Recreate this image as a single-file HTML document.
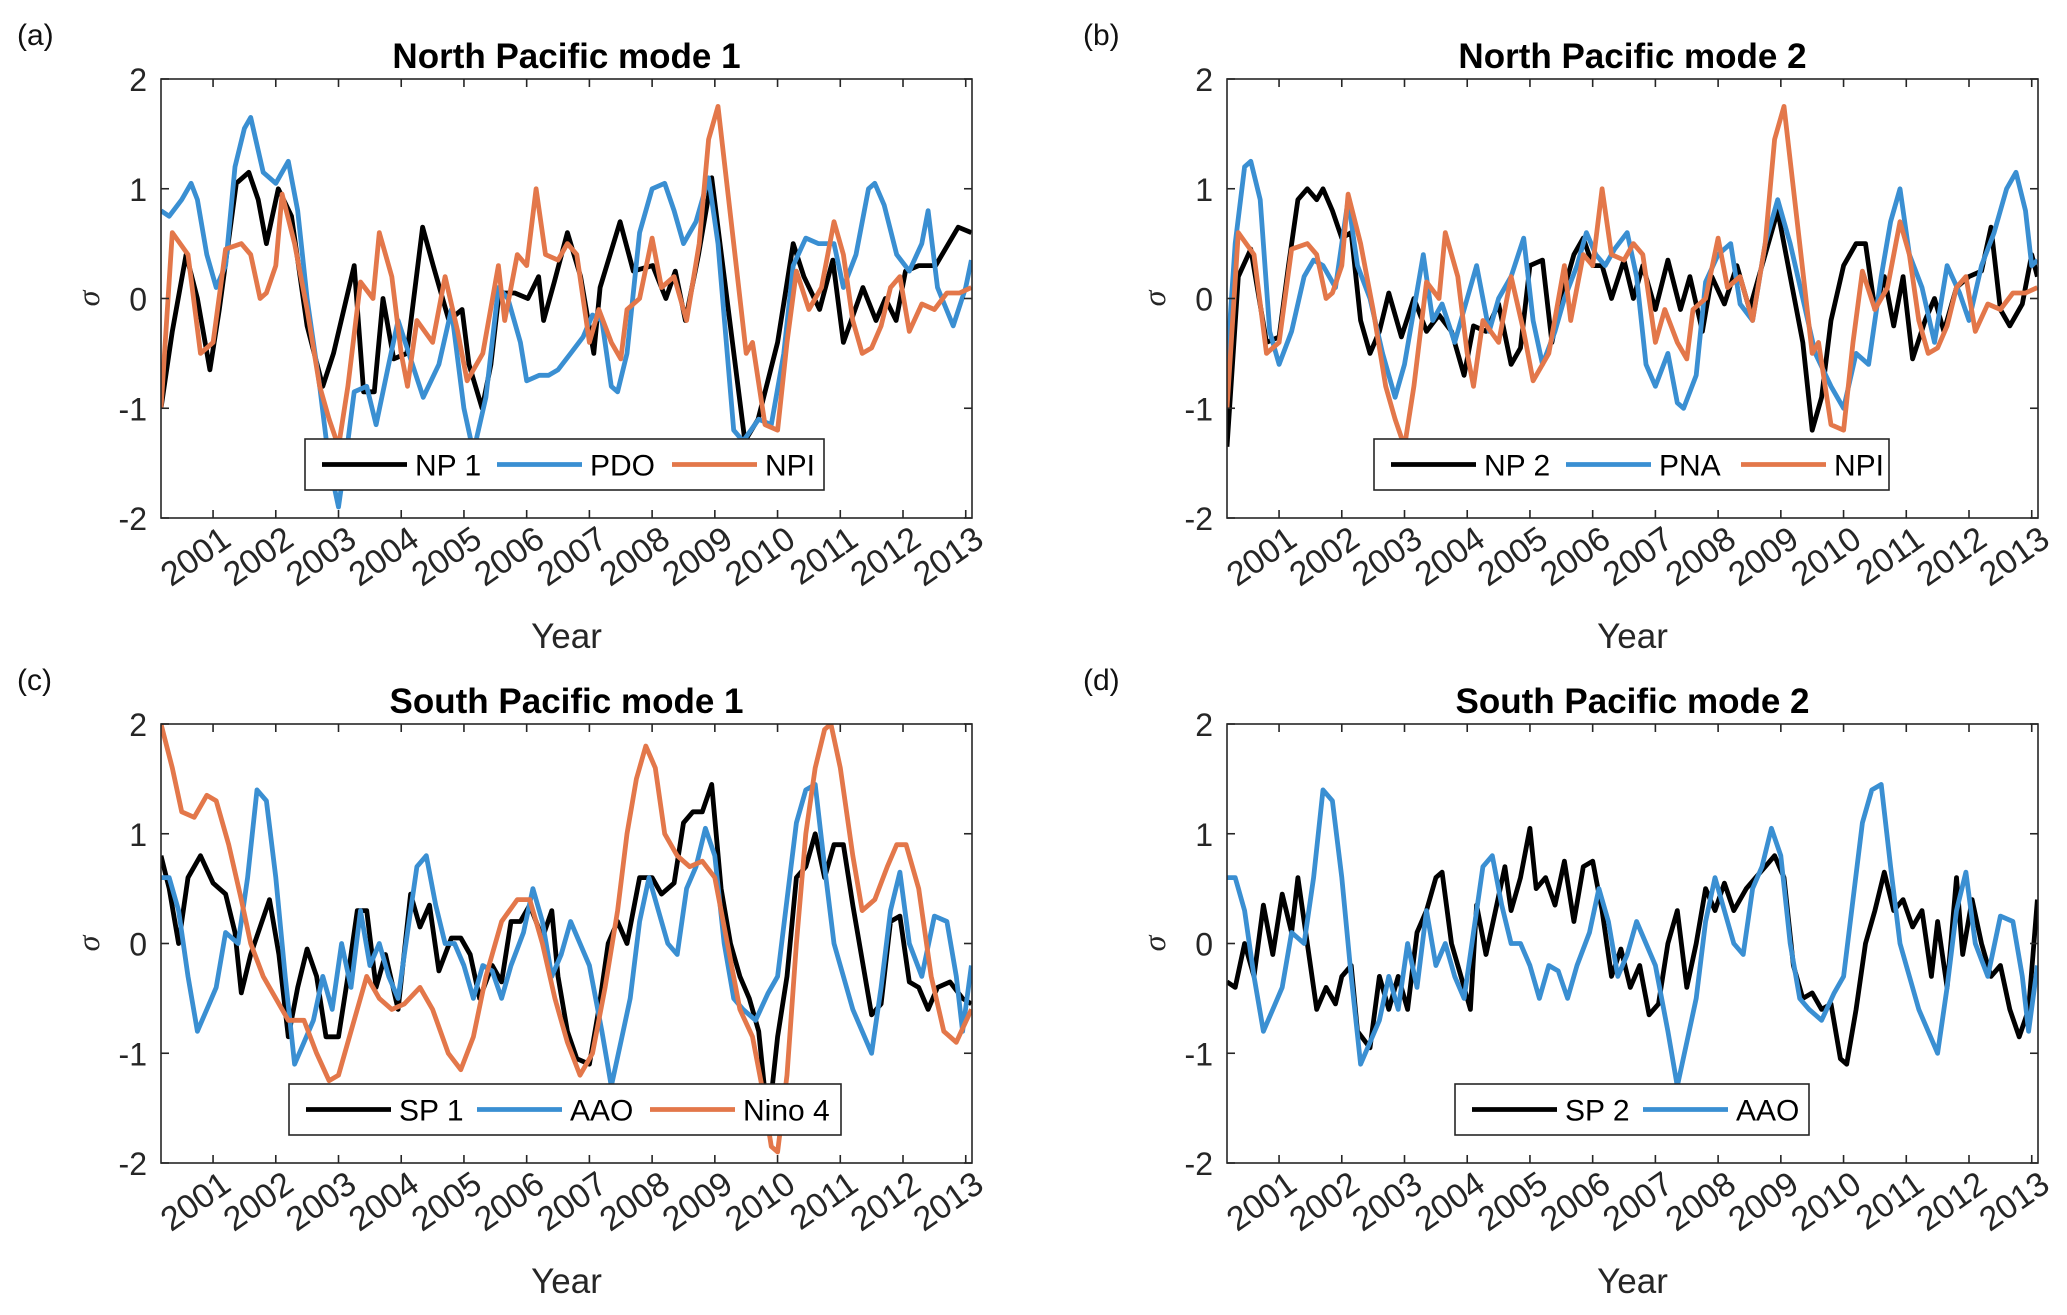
<!DOCTYPE html>
<html><head><meta charset="utf-8"><style>
html,body{margin:0;padding:0;background:#fff;}
svg{display:block;font-family:"Liberation Sans",Arial,sans-serif;}
</style></head><body>
<svg id="fig" width="2067" height="1315" viewBox="0 0 2067 1315" xmlns="http://www.w3.org/2000/svg"></svg>
<script>
const years = [2001,2002,2003,2004,2005,2006,2007,2008,2009,2010,2011,2012,2013];
const yTicks = [2,1,0,-1,-2];
const np1 = [[2000.17,-1],[2000.35,-0.3],[2000.57,0.4],[2000.75,0],[2000.95,-0.65],[2001.1,-0.1],[2001.37,1.05],[2001.57,1.15],[2001.72,0.9],[2001.85,0.5],[2002.04,1.0],[2002.25,0.75],[2002.5,-0.25],[2002.75,-0.8],[2002.92,-0.5],[2003.25,0.3],[2003.4,-0.85],[2003.57,-0.85],[2003.71,0],[2003.88,-0.55],[2004.09,-0.5],[2004.34,0.65],[2004.51,0.3],[2004.76,-0.2],[2004.97,-0.1],[2005.08,-0.6],[2005.29,-1.0],[2005.43,-0.6],[2005.56,0.05],[2005.81,0.05],[2006.02,0],[2006.19,0.2],[2006.27,-0.2],[2006.44,0.15],[2006.65,0.6],[2006.86,0.2],[2007.07,-0.5],[2007.17,0.1],[2007.49,0.7],[2007.7,0.25],[2008.01,0.3],[2008.22,0],[2008.37,0.25],[2008.53,-0.2],[2008.74,0.4],[2008.95,1.1],[2009.48,-1.3],[2009.69,-1.1],[2010.0,-0.4],[2010.25,0.5],[2010.42,0.2],[2010.67,-0.1],[2010.88,0.35],[2011.05,-0.4],[2011.36,0.1],[2011.57,-0.2],[2011.72,0],[2011.89,-0.2],[2012.04,0.25],[2012.25,0.3],[2012.52,0.3],[2012.88,0.65],[2013.09,0.6]];
const pdo = [[2000.17,0.8],[2000.3,0.75],[2000.5,0.9],[2000.65,1.05],[2000.75,0.9],[2000.9,0.4],[2001.05,0.1],[2001.2,0.3],[2001.35,1.2],[2001.5,1.55],[2001.6,1.65],[2001.8,1.15],[2002.0,1.05],[2002.2,1.25],[2002.35,0.8],[2002.5,0.0],[2002.7,-0.8],[2002.85,-1.5],[2003.0,-1.9],[2003.15,-1.3],[2003.25,-0.85],[2003.45,-0.8],[2003.6,-1.15],[2003.8,-0.6],[2003.95,-0.2],[2004.15,-0.55],[2004.35,-0.9],[2004.6,-0.6],[2004.8,-0.1],[2005.0,-1.0],[2005.15,-1.4],[2005.35,-0.9],[2005.55,0.1],[2005.7,0.0],[2005.9,-0.4],[2006.0,-0.75],[2006.2,-0.7],[2006.35,-0.7],[2006.5,-0.65],[2006.7,-0.5],[2006.9,-0.35],[2007.05,-0.15],[2007.2,-0.2],[2007.35,-0.8],[2007.45,-0.85],[2007.6,-0.5],[2007.8,0.6],[2008.0,1.0],[2008.2,1.05],[2008.35,0.8],[2008.5,0.5],[2008.7,0.7],[2008.9,1.1],[2009.05,0.5],[2009.3,-1.2],[2009.45,-1.3],[2009.7,-1.1],[2009.9,-1.15],[2010.1,-0.5],[2010.25,0.3],[2010.45,0.55],[2010.65,0.5],[2010.9,0.5],[2011.05,0.1],[2011.25,0.4],[2011.45,1.0],[2011.55,1.05],[2011.7,0.85],[2011.9,0.4],[2012.1,0.25],[2012.3,0.5],[2012.4,0.8],[2012.55,0.1],[2012.8,-0.25],[2013.0,0.1],[2013.09,0.35]];
const npi = [[2000.17,-1],[2000.35,0.6],[2000.6,0.4],[2000.8,-0.5],[2001.0,-0.4],[2001.2,0.45],[2001.45,0.5],[2001.6,0.4],[2001.75,0.0],[2001.85,0.05],[2002.0,0.3],[2002.1,0.95],[2002.3,0.5],[2002.5,-0.1],[2002.7,-0.8],[2002.85,-1.1],[2003.0,-1.35],[2003.15,-0.8],[2003.35,0.15],[2003.55,0.0],[2003.65,0.6],[2003.85,0.2],[2004.0,-0.5],[2004.1,-0.8],[2004.25,-0.2],[2004.5,-0.4],[2004.7,0.2],[2004.9,-0.3],[2005.05,-0.75],[2005.3,-0.5],[2005.55,0.3],[2005.65,-0.2],[2005.85,0.4],[2006.0,0.3],[2006.15,1.0],[2006.3,0.4],[2006.5,0.35],[2006.65,0.5],[2006.8,0.4],[2007.0,-0.4],[2007.15,-0.1],[2007.35,-0.4],[2007.5,-0.55],[2007.6,-0.1],[2007.8,0.0],[2008.0,0.55],[2008.15,0.1],[2008.35,0.2],[2008.55,-0.2],[2008.75,0.5],[2008.9,1.45],[2009.05,1.75],[2009.3,0.5],[2009.5,-0.5],[2009.6,-0.4],[2009.8,-1.15],[2010.0,-1.2],[2010.15,-0.4],[2010.3,0.25],[2010.5,-0.1],[2010.7,0.1],[2010.9,0.7],[2011.05,0.4],[2011.2,-0.2],[2011.35,-0.5],[2011.5,-0.45],[2011.65,-0.25],[2011.8,0.1],[2011.95,0.2],[2012.1,-0.3],[2012.3,-0.05],[2012.5,-0.1],[2012.7,0.05],[2012.9,0.05],[2013.09,0.1]];
const np2 = [[2000.17,-1.35],[2000.35,0.2],[2000.55,0.45],[2000.8,-0.4],[2001.0,-0.35],[2001.15,0.3],[2001.3,0.9],[2001.45,1.0],[2001.6,0.9],[2001.7,1.0],[2001.85,0.8],[2002.0,0.55],[2002.15,0.6],[2002.3,-0.2],[2002.45,-0.5],[2002.6,-0.3],[2002.75,0.05],[2002.95,-0.35],[2003.15,0.0],[2003.35,-0.3],[2003.55,-0.15],[2003.75,-0.3],[2003.95,-0.7],[2004.1,-0.25],[2004.3,-0.3],[2004.5,-0.05],[2004.7,-0.6],[2004.85,-0.45],[2005.0,0.3],[2005.2,0.35],[2005.35,-0.4],[2005.5,0.0],[2005.7,0.4],[2005.85,0.55],[2006.0,0.3],[2006.15,0.3],[2006.3,0.0],[2006.5,0.35],[2006.65,0.0],[2006.8,0.3],[2007.0,-0.1],[2007.2,0.35],[2007.4,-0.1],[2007.55,0.2],[2007.75,-0.3],[2007.9,0.2],[2008.1,-0.05],[2008.3,0.3],[2008.5,-0.1],[2008.7,0.3],[2008.95,0.8],[2009.15,0.2],[2009.35,-0.4],[2009.5,-1.2],[2009.65,-0.9],[2009.8,-0.2],[2010.0,0.3],[2010.2,0.5],[2010.35,0.5],[2010.5,-0.1],[2010.65,0.2],[2010.8,-0.25],[2010.95,0.2],[2011.1,-0.55],[2011.3,-0.2],[2011.45,0.0],[2011.6,-0.3],[2011.8,0.1],[2012.0,0.2],[2012.2,0.25],[2012.35,0.65],[2012.5,-0.1],[2012.65,-0.25],[2012.85,-0.05],[2013.0,0.4],[2013.09,0.2]];
const pna = [[2000.17,-0.6],[2000.3,0.5],[2000.45,1.2],[2000.55,1.25],[2000.7,0.9],[2000.85,-0.3],[2001.0,-0.6],[2001.2,-0.3],[2001.4,0.2],[2001.55,0.35],[2001.7,0.3],[2001.9,0.1],[2002.1,0.9],[2002.25,0.3],[2002.45,0.0],[2002.65,-0.5],[2002.85,-0.9],[2003.0,-0.6],[2003.15,-0.1],[2003.3,0.4],[2003.45,-0.2],[2003.6,-0.05],[2003.8,-0.4],[2004.0,0.0],[2004.15,0.3],[2004.35,-0.3],[2004.5,0.0],[2004.7,0.2],[2004.9,0.55],[2005.05,-0.2],[2005.2,-0.6],[2005.4,-0.3],[2005.55,0.0],[2005.75,0.3],[2005.9,0.6],[2006.05,0.4],[2006.2,0.3],[2006.35,0.45],[2006.55,0.6],[2006.7,0.2],[2006.85,-0.6],[2007.0,-0.8],[2007.2,-0.5],[2007.35,-0.95],[2007.45,-1.0],[2007.65,-0.7],[2007.8,0.15],[2008.0,0.4],[2008.2,0.5],[2008.35,-0.05],[2008.55,-0.2],[2008.75,0.5],[2008.95,0.9],[2009.15,0.5],[2009.35,0.0],[2009.55,-0.5],[2009.8,-0.8],[2010.0,-1.0],[2010.2,-0.5],[2010.4,-0.6],[2010.6,0.2],[2010.75,0.7],[2010.9,1.0],[2011.05,0.4],[2011.25,0.1],[2011.45,-0.4],[2011.65,0.3],[2011.85,0.05],[2012.0,-0.2],[2012.2,0.3],[2012.4,0.6],[2012.6,1.0],[2012.75,1.15],[2012.9,0.8],[2013.0,0.3],[2013.09,0.35]];
const sp1 = [[2000.17,0.8],[2000.3,0.5],[2000.45,0.0],[2000.6,0.6],[2000.8,0.8],[2001.0,0.55],[2001.2,0.45],[2001.35,0.1],[2001.45,-0.45],[2001.6,-0.1],[2001.75,0.15],[2001.9,0.4],[2002.05,-0.1],[2002.2,-0.85],[2002.35,-0.4],[2002.5,-0.05],[2002.65,-0.3],[2002.8,-0.85],[2003.0,-0.85],[2003.15,-0.3],[2003.3,0.3],[2003.45,0.3],[2003.6,-0.4],[2003.75,-0.1],[2003.95,-0.6],[2004.15,0.45],[2004.3,0.15],[2004.45,0.35],[2004.6,-0.25],[2004.8,0.05],[2004.95,0.05],[2005.1,-0.1],[2005.25,-0.5],[2005.45,-0.2],[2005.6,-0.35],[2005.75,0.2],[2005.9,0.2],[2006.05,0.35],[2006.25,0.05],[2006.4,0.3],[2006.5,-0.3],[2006.65,-0.8],[2006.8,-1.05],[2007.0,-1.1],[2007.15,-0.6],[2007.3,0.0],[2007.45,0.2],[2007.6,0.0],[2007.8,0.6],[2008.0,0.6],[2008.15,0.45],[2008.35,0.55],[2008.5,1.1],[2008.65,1.2],[2008.8,1.2],[2008.95,1.45],[2009.1,0.5],[2009.25,0.0],[2009.4,-0.3],[2009.55,-0.5],[2009.7,-0.8],[2009.85,-1.65],[2010.0,-0.85],[2010.15,-0.3],[2010.3,0.6],[2010.45,0.7],[2010.6,1.0],[2010.75,0.6],[2010.9,0.9],[2011.05,0.9],[2011.2,0.35],[2011.35,-0.15],[2011.5,-0.65],[2011.65,-0.55],[2011.8,0.2],[2011.95,0.25],[2012.1,-0.35],[2012.25,-0.4],[2012.4,-0.6],[2012.55,-0.4],[2012.75,-0.35],[2012.95,-0.5],[2013.09,-0.55]];
const aao = [[2000.17,0.6],[2000.3,0.6],[2000.45,0.3],[2000.6,-0.3],[2000.75,-0.8],[2000.9,-0.6],[2001.05,-0.4],[2001.2,0.1],[2001.4,0.0],[2001.55,0.6],[2001.7,1.4],[2001.85,1.3],[2002.0,0.6],[2002.15,-0.3],[2002.3,-1.1],[2002.45,-0.9],[2002.6,-0.7],[2002.75,-0.3],[2002.9,-0.6],[2003.05,0.0],[2003.2,-0.4],[2003.35,0.3],[2003.5,-0.2],[2003.65,0.0],[2003.8,-0.3],[2003.95,-0.5],[2004.1,0.1],[2004.25,0.7],[2004.4,0.8],[2004.55,0.35],[2004.7,0.0],[2004.85,0.0],[2005.0,-0.2],[2005.15,-0.5],[2005.3,-0.2],[2005.45,-0.25],[2005.6,-0.5],[2005.75,-0.2],[2005.95,0.1],[2006.1,0.5],[2006.25,0.2],[2006.4,-0.3],[2006.55,-0.1],[2006.7,0.2],[2006.85,0.0],[2007.0,-0.2],[2007.2,-0.8],[2007.35,-1.3],[2007.5,-0.9],[2007.65,-0.5],[2007.8,0.2],[2007.95,0.6],[2008.1,0.3],[2008.25,0.0],[2008.4,-0.1],[2008.55,0.5],[2008.7,0.7],[2008.85,1.05],[2009.0,0.8],[2009.15,0.0],[2009.3,-0.5],[2009.45,-0.6],[2009.65,-0.7],[2009.85,-0.45],[2010.0,-0.3],[2010.15,0.4],[2010.3,1.1],[2010.45,1.4],[2010.6,1.45],[2010.75,0.7],[2010.9,0.0],[2011.05,-0.3],[2011.2,-0.6],[2011.35,-0.8],[2011.5,-1.0],[2011.65,-0.4],[2011.8,0.3],[2011.95,0.65],[2012.1,0.0],[2012.3,-0.3],[2012.5,0.25],[2012.7,0.2],[2012.85,-0.3],[2012.95,-0.8],[2013.09,-0.2]];
const nino4 = [[2000.17,2.0],[2000.35,1.6],[2000.5,1.2],[2000.7,1.15],[2000.9,1.35],[2001.05,1.3],[2001.25,0.9],[2001.45,0.4],[2001.6,0.0],[2001.8,-0.3],[2002.0,-0.5],[2002.2,-0.7],[2002.45,-0.7],[2002.65,-1.0],[2002.85,-1.25],[2003.0,-1.2],[2003.2,-0.8],[2003.45,-0.3],[2003.65,-0.5],[2003.85,-0.6],[2004.05,-0.55],[2004.3,-0.4],[2004.5,-0.6],[2004.75,-1.0],[2004.95,-1.15],[2005.15,-0.85],[2005.35,-0.3],[2005.6,0.2],[2005.85,0.4],[2006.05,0.4],[2006.25,0.0],[2006.45,-0.5],[2006.65,-0.9],[2006.85,-1.2],[2007.05,-1.0],[2007.25,-0.4],[2007.45,0.3],[2007.6,1.0],[2007.75,1.5],[2007.9,1.8],[2008.05,1.6],[2008.2,1.0],[2008.4,0.8],[2008.6,0.7],[2008.8,0.75],[2009.0,0.6],[2009.2,0.0],[2009.4,-0.6],[2009.6,-0.85],[2009.75,-1.3],[2009.9,-1.85],[2010.0,-1.9],[2010.15,-1.2],[2010.3,0.0],[2010.45,1.0],[2010.6,1.6],[2010.75,1.95],[2010.85,2.0],[2011.0,1.6],[2011.2,0.8],[2011.35,0.3],[2011.55,0.4],[2011.75,0.7],[2011.9,0.9],[2012.05,0.9],[2012.25,0.5],[2012.45,-0.3],[2012.65,-0.8],[2012.85,-0.9],[2013.09,-0.6]];
const sp2 = [[2000.17,-0.35],[2000.3,-0.4],[2000.45,0.0],[2000.6,-0.3],[2000.75,0.35],[2000.9,-0.1],[2001.05,0.45],[2001.2,0.1],[2001.3,0.6],[2001.45,0.0],[2001.6,-0.6],[2001.75,-0.4],[2001.9,-0.55],[2002.0,-0.3],[2002.15,-0.2],[2002.25,-0.8],[2002.45,-0.95],[2002.6,-0.3],[2002.75,-0.6],[2002.9,-0.3],[2003.05,-0.6],[2003.2,0.1],[2003.35,0.3],[2003.5,0.6],[2003.6,0.65],[2003.75,0.0],[2003.9,-0.3],[2004.05,-0.6],[2004.15,0.35],[2004.3,-0.1],[2004.45,0.3],[2004.6,0.7],[2004.7,0.3],[2004.85,0.6],[2005.0,1.05],[2005.1,0.5],[2005.25,0.6],[2005.4,0.35],[2005.55,0.75],[2005.7,0.2],[2005.85,0.7],[2006.0,0.75],[2006.15,0.3],[2006.3,-0.3],[2006.45,-0.05],[2006.6,-0.4],[2006.75,-0.2],[2006.9,-0.65],[2007.05,-0.55],[2007.2,0.0],[2007.35,0.3],[2007.5,-0.4],[2007.65,0.0],[2007.8,0.5],[2007.95,0.3],[2008.1,0.55],[2008.25,0.3],[2008.45,0.5],[2008.6,0.6],[2008.75,0.7],[2008.9,0.8],[2009.05,0.6],[2009.2,-0.2],[2009.35,-0.5],[2009.5,-0.45],[2009.65,-0.6],[2009.8,-0.55],[2009.95,-1.05],[2010.05,-1.1],[2010.2,-0.6],[2010.35,0.0],[2010.5,0.3],[2010.65,0.65],[2010.8,0.3],[2010.95,0.4],[2011.1,0.15],[2011.25,0.3],[2011.4,-0.3],[2011.5,0.2],[2011.65,-0.4],[2011.8,0.6],[2011.9,-0.1],[2012.05,0.4],[2012.2,0.0],[2012.35,-0.3],[2012.5,-0.2],[2012.65,-0.6],[2012.8,-0.85],[2012.95,-0.6],[2013.09,0.4]];

const NS = 'http://www.w3.org/2000/svg';
const svg = document.getElementById('fig');
const BLUE = '#3a8fd2', ORANGE = '#e3774a';
const X0 = 2000.17, X1 = 2013.1, W = 811, H = 439;
function mk(tag, attrs, parent) {
  const e = document.createElementNS(NS, tag);
  for (const k in attrs) e.setAttribute(k, attrs[k]);
  (parent || svg).appendChild(e);
  return e;
}
function panel(id, L, T, title, series, legend) {
  const g = mk('g', {});
  
  
  const sx = v => L + (v - X0) / (X1 - X0) * W;
  const sy = v => T + (2 - v) / 4 * H;
  const lab = mk('text', {x: L - 144, y: T - 34, 'font-size': 30, fill: '#111'}, g);
  lab.textContent = '(' + id + ')';
  
  
  const tt = mk('text', {x: L + W / 2, y: T - 11, 'font-size': 35, 'font-weight': 'bold', 'text-anchor': 'middle', fill: '#000'}, g);
  tt.textContent = title;
  
  
  const clipId = 'clip' + id;
  const cp = mk('clipPath', {id: clipId}, g);
  mk('rect', {x: L, y: T, width: W, height: H}, cp);
  const sg = mk('g', {'clip-path': 'url(#' + clipId + ')'}, g);
  series.forEach(s => {
    const d = s.data.map((p, i) => (i ? 'L' : 'M') + sx(p[0]).toFixed(1) + ' ' + sy(p[1]).toFixed(1)).join(' ');
    const path = mk('path', {d: d, fill: 'none', stroke: s.color, 'stroke-width': 4.8, 'stroke-linejoin': 'round'}, sg);
    
    
  });
  const ax = mk('rect', {x: L, y: T, width: W, height: H, fill: 'none', stroke: '#262626', 'stroke-width': 1.6}, g);
  
  
  years.forEach(y => {
    const x = sx(y);
    mk('line', {x1: x, x2: x, y1: T + H, y2: T + H - 8, stroke: '#262626', 'stroke-width': 1.6}, g);
    mk('line', {x1: x, x2: x, y1: T, y2: T + 8, stroke: '#262626', 'stroke-width': 1.6}, g);
    const ax2 = x + 20, ay2 = T + H + 26;
    const t = mk('text', {x: ax2, y: ay2, 'font-size': 34, 'text-anchor': 'end', fill: '#262626', transform: 'rotate(-35 ' + ax2 + ' ' + ay2 + ')'}, g);
    t.textContent = y;
    
    
  });
  yTicks.forEach(v => {
    const y = sy(v);
    mk('line', {x1: L, x2: L + 8, y1: y, y2: y, stroke: '#262626', 'stroke-width': 1.6}, g);
    mk('line', {x1: L + W, x2: L + W - 8, y1: y, y2: y, stroke: '#262626', 'stroke-width': 1.6}, g);
    const t = mk('text', {x: L - 14, y: y + 12, 'font-size': 32, 'text-anchor': 'end', fill: '#262626'}, g);
    t.textContent = v;
    
    
  });
  const yl = mk('text', {x: L - 62, y: T + H / 2, 'font-size': 32, 'font-style': 'italic', 'font-family': '"Liberation Serif", serif', 'text-anchor': 'middle', fill: '#262626', transform: 'rotate(-90 ' + (L - 62) + ' ' + (T + H / 2) + ')'}, g);
  yl.textContent = 'σ';
  
  
  const xl = mk('text', {x: L + W / 2, y: T + H + 130, 'font-size': 35, 'text-anchor': 'middle', fill: '#262626'}, g);
  xl.textContent = 'Year';
  
  
  const lg = mk('g', {}, g);
  
  
  mk('rect', {x: legend.x, y: T + 360, width: legend.w, height: 51, fill: '#fff', stroke: '#262626', 'stroke-width': 1.6}, lg);
  let cx = legend.x + 17;
  series.forEach((s, i) => {
    const ly = T + 360 + 25.5;
    mk('line', {x1: cx, x2: cx + 85, y1: ly, y2: ly, stroke: s.color, 'stroke-width': 4.8}, lg);
    const t = mk('text', {x: cx + 93, y: ly + 11, 'font-size': 30, fill: '#000'}, lg);
    t.textContent = s.name;
    
    
    cx += 93 + legend.gaps[i];
  });
}
panel('a', 161, 79, 'North Pacific mode 1',
  [{name: 'NP 1', color: '#000', data: np1}, {name: 'PDO', color: BLUE, data: pdo}, {name: 'NPI', color: ORANGE, data: npi}],
  {x: 305, w: 519, gaps: [82, 82, 0]});
panel('b', 1227, 79, 'North Pacific mode 2',
  [{name: 'NP 2', color: '#000', data: np2}, {name: 'PNA', color: BLUE, data: pna}, {name: 'NPI', color: ORANGE, data: npi}],
  {x: 1374, w: 515, gaps: [82, 82, 0]});
panel('c', 161, 724, 'South Pacific mode 1',
  [{name: 'SP 1', color: '#000', data: sp1}, {name: 'AAO', color: BLUE, data: aao}, {name: 'Nino 4', color: ORANGE, data: nino4}],
  {x: 289, w: 552, gaps: [78, 80, 0]});
panel('d', 1227, 724, 'South Pacific mode 2',
  [{name: 'SP 2', color: '#000', data: sp2}, {name: 'AAO', color: BLUE, data: aao}],
  {x: 1455, w: 354, gaps: [78, 0]});
</script>
</body></html>
